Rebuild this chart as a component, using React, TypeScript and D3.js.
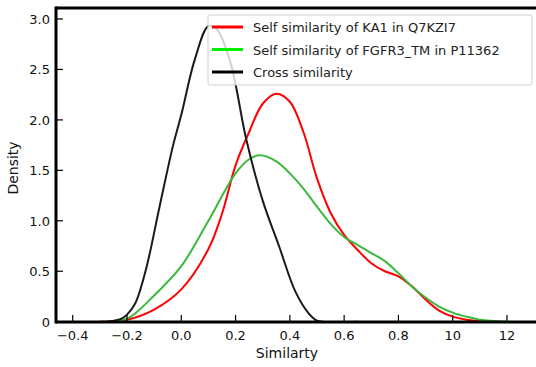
import React, { useEffect, useRef } from "react";
import * as d3 from "d3";

const kaSim = [-0.3, -0.2, -0.1, 0.0, 0.1, 0.15, 0.2, 0.25, 0.3, 0.35, 0.4, 0.45, 0.5, 0.55, 0.6, 0.65, 0.7, 0.75, 0.8, 0.85, 0.9, 0.95, 1.0, 1.05, 1.1, 1.18];
const kaDensity = [0.0, 0.02, 0.12, 0.32, 0.72, 1.07, 1.55, 1.88, 2.16, 2.26, 2.18, 1.88, 1.42, 1.08, 0.86, 0.71, 0.58, 0.5, 0.45, 0.35, 0.22, 0.11, 0.05, 0.02, 0.005, 0.0];

const fgSim = [-0.3, -0.2, -0.1, 0.0, 0.1, 0.2, 0.25, 0.29, 0.35, 0.4, 0.45, 0.5, 0.55, 0.6, 0.65, 0.7, 0.75, 0.8, 0.85, 0.9, 0.95, 1.0, 1.05, 1.1, 1.2];
const fgDensity = [0.0, 0.03, 0.26, 0.55, 1.0, 1.47, 1.61, 1.65, 1.59, 1.47, 1.32, 1.14, 0.97, 0.84, 0.76, 0.68, 0.6, 0.48, 0.35, 0.24, 0.15, 0.09, 0.05, 0.02, 0.0];

const crossSim = [-0.27, -0.22, -0.2, -0.17, -0.13, -0.08, -0.03, 0.0, 0.05, 0.1, 0.13, 0.18, 0.24, 0.3, 0.36, 0.42, 0.47, 0.5, 0.52, 0.65];
const crossDensity = [0.0, 0.03, 0.07, 0.18, 0.52, 1.14, 1.75, 2.05, 2.6, 2.93, 2.9, 2.58, 1.8, 1.2, 0.75, 0.3, 0.08, 0.01, 0.0, 0.0];

const xTicks = [-0.4, -0.2, 0.0, 0.2, 0.4, 0.6, 0.8, 1.0, 1.2];
const xTickLabels = ["\u22120.4", "\u22120.2", "0.0", "0.2", "0.4", "0.6", "0.8", "10", "12"];
const yTicks = [0, 0.5, 1.0, 1.5, 2.0, 2.5, 3.0];
const yTickLabels = ["0", "0.5", "1.0", "1.5", "2.0", "2.5", "3.0"];

const legendLabels = ["Self similarity of KA1 in Q7KZI7", "Self similarity of FGFR3_TM in P11362", "Cross similarity"];

const App = () => {
  const ref = useRef<SVGSVGElement>(null);

  useEffect(() => {
    const width = 536;
    const height = 367;
    const left = 56;
    const top = 8;
    const bottom = 322;

    const svg = d3.select(ref.current).attr("width", width).attr("height", height);
    svg.selectAll("*").remove();

    const x = d3.scaleLinear().domain([-0.4, 1.2]).range([72.7, 507]);
    const y = d3.scaleLinear().domain([0, 3]).range([321.7, 19]);

    const font = "'DejaVu Sans', Verdana, sans-serif";

    const series = [
      { xs: kaSim, ys: kaDensity, color: "#ff0000", legend: "#ff0000" },
      { xs: fgSim, ys: fgDensity, color: "#3cb83c", legend: "#00ee00" },
      { xs: crossSim, ys: crossDensity, color: "#1a1a1a", legend: "#000000" },
    ];

    const line = d3
      .line<[number, number]>()
      .x((d) => x(d[0]))
      .y((d) => Math.min(y(d[1]), y(0)))
      .curve(d3.curveCatmullRom.alpha(0.5));

    const plot = svg.append("g");
    series.forEach((s) => {
      const pts = s.xs.map((v, i) => [v, s.ys[i]] as [number, number]);
      plot
        .append("path")
        .attr("d", line(pts))
        .attr("fill", "none")
        .attr("stroke", s.color)
        .attr("stroke-width", 2);
    });

    // spines
    const spines = svg.append("g").attr("stroke", "#000").attr("stroke-width", 3);
    spines.append("line").attr("x1", left).attr("x2", width).attr("y1", top).attr("y2", top);
    spines.append("line").attr("x1", left).attr("x2", width).attr("y1", bottom).attr("y2", bottom);
    spines.append("line").attr("x1", left).attr("x2", left).attr("y1", top - 1.5).attr("y2", bottom + 1.5);

    // x ticks (inward)
    const xAxis = svg.append("g");
    xTicks.forEach((t, i) => {
      xAxis
        .append("line")
        .attr("x1", x(t))
        .attr("x2", x(t))
        .attr("y1", bottom)
        .attr("y2", bottom - 7)
        .attr("stroke", "#000")
        .attr("stroke-width", 1.2);
      xAxis
        .append("text")
        .attr("x", x(t))
        .attr("y", 340)
        .attr("text-anchor", "middle")
        .style("font-family", font)
        .style("font-size", "13px")
        .attr("fill", "#111")
        .text(xTickLabels[i]);
    });

    const yAxis = svg.append("g");
    yTicks.forEach((t, i) => {
      yAxis
        .append("line")
        .attr("x1", left)
        .attr("x2", left + 7)
        .attr("y1", y(t))
        .attr("y2", y(t))
        .attr("stroke", "#000")
        .attr("stroke-width", 1.2);
      yAxis
        .append("text")
        .attr("x", 50)
        .attr("y", y(t) + 5)
        .attr("text-anchor", "end")
        .style("font-family", font)
        .style("font-size", "13px")
        .attr("fill", "#111")
        .text(yTickLabels[i]);
    });

    svg
      .append("text")
      .attr("x", 287)
      .attr("y", 358)
      .attr("text-anchor", "middle")
      .style("font-family", font)
      .style("font-size", "14px")
      .attr("fill", "#111")
      .text("Similarty");

    svg
      .append("text")
      .attr("transform", "translate(18,168) rotate(-90)")
      .attr("text-anchor", "middle")
      .style("font-family", font)
      .style("font-size", "14px")
      .attr("fill", "#111")
      .text("Density");

    // legend
    const legend = svg.append("g");
    legend
      .append("rect")
      .attr("x", 208)
      .attr("y", 15)
      .attr("width", 324)
      .attr("height", 70)
      .attr("rx", 2)
      .attr("fill", "#fff")
      .attr("fill-opacity", 0.8)
      .attr("stroke", "#d0d0d0")
      .attr("stroke-width", 1);
    series.forEach((s, i) => {
      const ly = 27 + i * 22.5;
      legend
        .append("line")
        .attr("x1", 212)
        .attr("x2", 243)
        .attr("y1", ly)
        .attr("y2", ly)
        .attr("stroke", s.legend)
        .attr("stroke-width", 3);
      legend
        .append("text")
        .attr("x", 253)
        .attr("y", ly + 5)
        .style("font-family", font)
        .style("font-size", "13px")
        .attr("fill", "#222")
        .text(legendLabels[i]);
    });
  }, []);

  return <svg ref={ref} style={{ position: "absolute", left: 0, top: 0 }} />;
};

export default App;
